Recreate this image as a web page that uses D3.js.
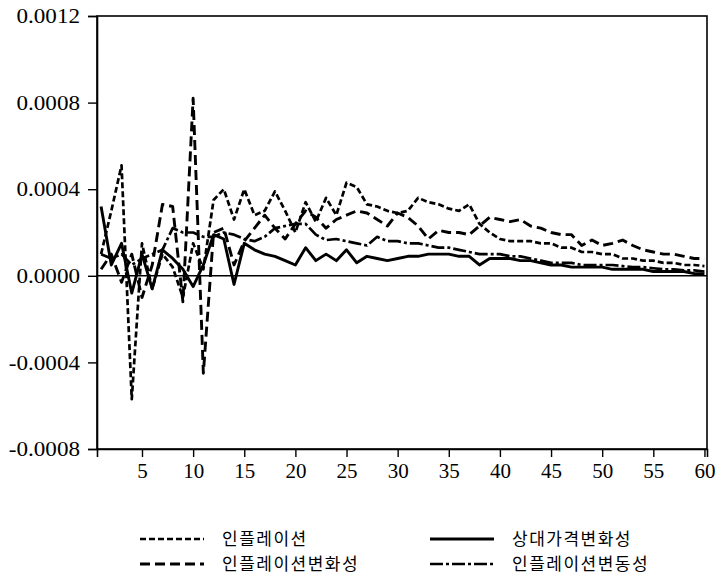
<!DOCTYPE html>
<html><head><meta charset="utf-8">
<script src="https://cdn.jsdelivr.net/npm/d3@7"></script>
<style>body{margin:0;background:#fff}svg{display:block}</style>
</head><body><svg id="c" width="722" height="576"></svg>
<script>
const periods = d3.range(1, 61);
const inflation = [0.0001,0.0003,0.00051,-0.00057,0.00015,-0.00006,0.0001,0.00004,-0.0001,0.00015,
0.00003,0.00035,0.0004,0.00026,0.0004,0.00028,0.0003,0.00039,0.0003,0.0002,
0.00034,0.00025,0.00036,0.00028,0.00043,0.00041,0.00033,0.00032,0.0003,0.00029,
0.0003,0.00036,0.00034,0.00033,0.00031,0.0003,0.00033,0.00024,0.0002,0.00017,
0.00016,0.00016,0.00016,0.00015,0.00015,0.00013,0.00013,0.00011,0.00011,0.0001,
0.0001,0.00008,0.00008,0.00007,0.00007,0.00006,0.00006,0.00005,0.00005,0.000045];
const inflationChange = [0.00003,0.0001,-0.00003,0.0001,-0.0001,0.00005,0.00033,0.00032,-0.00012,0.00082,
-0.00045,0.0002,0.00022,0.00005,0.00016,0.00022,0.00028,0.00022,0.00017,0.00024,
0.0003,0.00027,0.00022,0.00026,0.00028,0.0003,0.00029,0.00026,0.00023,0.00029,
0.00027,0.00023,0.00017,0.00021,0.0002,0.0002,0.00019,0.00023,0.00027,0.00026,
0.00025,0.00026,0.00023,0.00022,0.0002,0.00019,0.00019,0.00014,0.000165,0.00014,
0.00015,0.000165,0.00014,0.00012,0.00011,0.0001,0.0001,0.00009,0.00008,0.00008];
const relPriceChange = [0.00032,0.00005,0.00015,-0.00008,0.0001,-0.00006,0.00012,0.00008,0.00003,-0.00005,
0.00005,0.00019,0.00017,-0.00004,0.00015,0.00012,0.0001,0.00009,0.00007,0.00005,
0.00013,0.00007,0.0001,0.00007,0.00012,0.00006,0.00009,0.00008,0.00007,0.00008,
0.00009,0.00009,0.0001,0.0001,0.0001,0.00009,0.00009,0.00005,0.00008,0.00008,
0.00008,0.00007,0.00007,0.00006,0.00005,0.00005,0.00004,0.00004,0.00004,0.00004,
0.00003,0.00003,0.00003,0.00003,0.00002,0.00002,0.00002,0.00002,0.00001,0.00001];
const inflationVol = [0.0001,0.00008,0.0001,0.00005,0.00008,0.0001,0.00012,0.00022,0.0002,0.0002,
0.00018,0.00018,0.0002,0.00019,0.00017,0.00016,0.00018,0.00022,0.00023,0.00024,
0.00024,0.00019,0.000165,0.00017,0.00016,0.00015,0.00014,0.00018,0.00016,0.00016,
0.00015,0.00015,0.00014,0.00013,0.00013,0.00012,0.00011,0.0001,0.0001,0.0001,
0.00009,0.00009,0.00008,0.00007,0.00006,0.00006,0.00006,0.00005,0.00005,0.00005,
0.00005,0.000045,0.00004,0.00004,0.000035,0.00003,0.00003,0.000025,0.000025,0.00002];
const yTicks = [-0.0008,-0.0004,0,0.0004,0.0008,0.0012];
const xTicks = [5,10,15,20,25,30,35,40,45,50,55,60];
const seriesNames = ["인플레이션","인플레이션변화성","상대가격변화성","인플레이션변동성"];

const series = [
  {name: seriesNames[0], values: inflation, dash: "6,3", w: 2.7},
  {name: seriesNames[1], values: inflationChange, dash: "10,5", w: 2.9},
  {name: seriesNames[2], values: relPriceChange, dash: null, w: 2.9},
  {name: seriesNames[3], values: inflationVol, dash: "13,3,3,3", w: 2.7}
];

const L = 97, R = 707, T = 16, B = 449;
const svg = d3.select("#c");
const x = d3.scaleLinear().domain([0.6, 60.25]).range([L, R]);
const y = d3.scaleLinear().domain([-0.0008, 0.0012]).range([B, T]);
const font = "'Liberation Serif','Times New Roman',serif";
const fmtY = d => d3.format(".4f")(d).replace("\u2212", "-");

// frame
svg.append("rect").attr("x", L).attr("y", T).attr("width", R - L).attr("height", B - T)
  .attr("fill", "none").attr("stroke", "#000").attr("stroke-width", 1.6);
// zero line
svg.append("line").attr("x1", L).attr("x2", R).attr("y1", y(0)).attr("y2", y(0))
  .attr("stroke", "#000").attr("stroke-width", 1.6);

const yAxis = svg.append("g").attr("transform", `translate(${L},0)`)
  .call(d3.axisLeft(y).tickValues(yTicks).tickSize(9).tickPadding(8).tickFormat(fmtY));
const xAxis = svg.append("g").attr("transform", `translate(0,${B})`)
  .call(d3.axisBottom(x).tickValues(xTicks).tickSize(8).tickPadding(6).tickFormat(d3.format("d")));
[yAxis, xAxis].forEach(g => {
  g.select(".domain").attr("stroke-width", 1.6);
  g.selectAll(".tick line").attr("stroke-width", 1.4);
  g.selectAll("text").attr("font-family", font).attr("font-size", 21).attr("fill", "#000");
});
yAxis.selectAll("text").each(function () {
  const len = this.getComputedTextLength();
  d3.select(this).attr("textLength", len * 1.1).attr("lengthAdjust", "spacingAndGlyphs");
});

const line = d3.line().x((d, i) => x(periods[i])).y(d => y(d));
series.forEach(s => {
  svg.append("path").datum(s.values).attr("d", line)
    .attr("fill", "none").attr("stroke", "#000").attr("stroke-width", s.w)
    .attr("stroke-linejoin", "round")
    .attr("stroke-dasharray", s.dash);
});

// legend
const legendPos = [[140, 539], [140, 564], [430, 539], [430, 564]];
series.forEach((s, i) => {
  const [lx, ly] = legendPos[i];
  svg.append("line").attr("x1", lx).attr("x2", lx + 64).attr("y1", ly).attr("y2", ly)
    .attr("stroke", "#000").attr("stroke-width", s.w).attr("stroke-dasharray", s.dash);
  svg.append("text").attr("x", lx + 82).attr("y", ly + 6).text(s.name)
    .attr("font-family", "'Noto Sans CJK KR',sans-serif").attr("font-size", 17)
    .attr("letter-spacing", 1.5).attr("fill", "#000");
});
</script></body></html>
